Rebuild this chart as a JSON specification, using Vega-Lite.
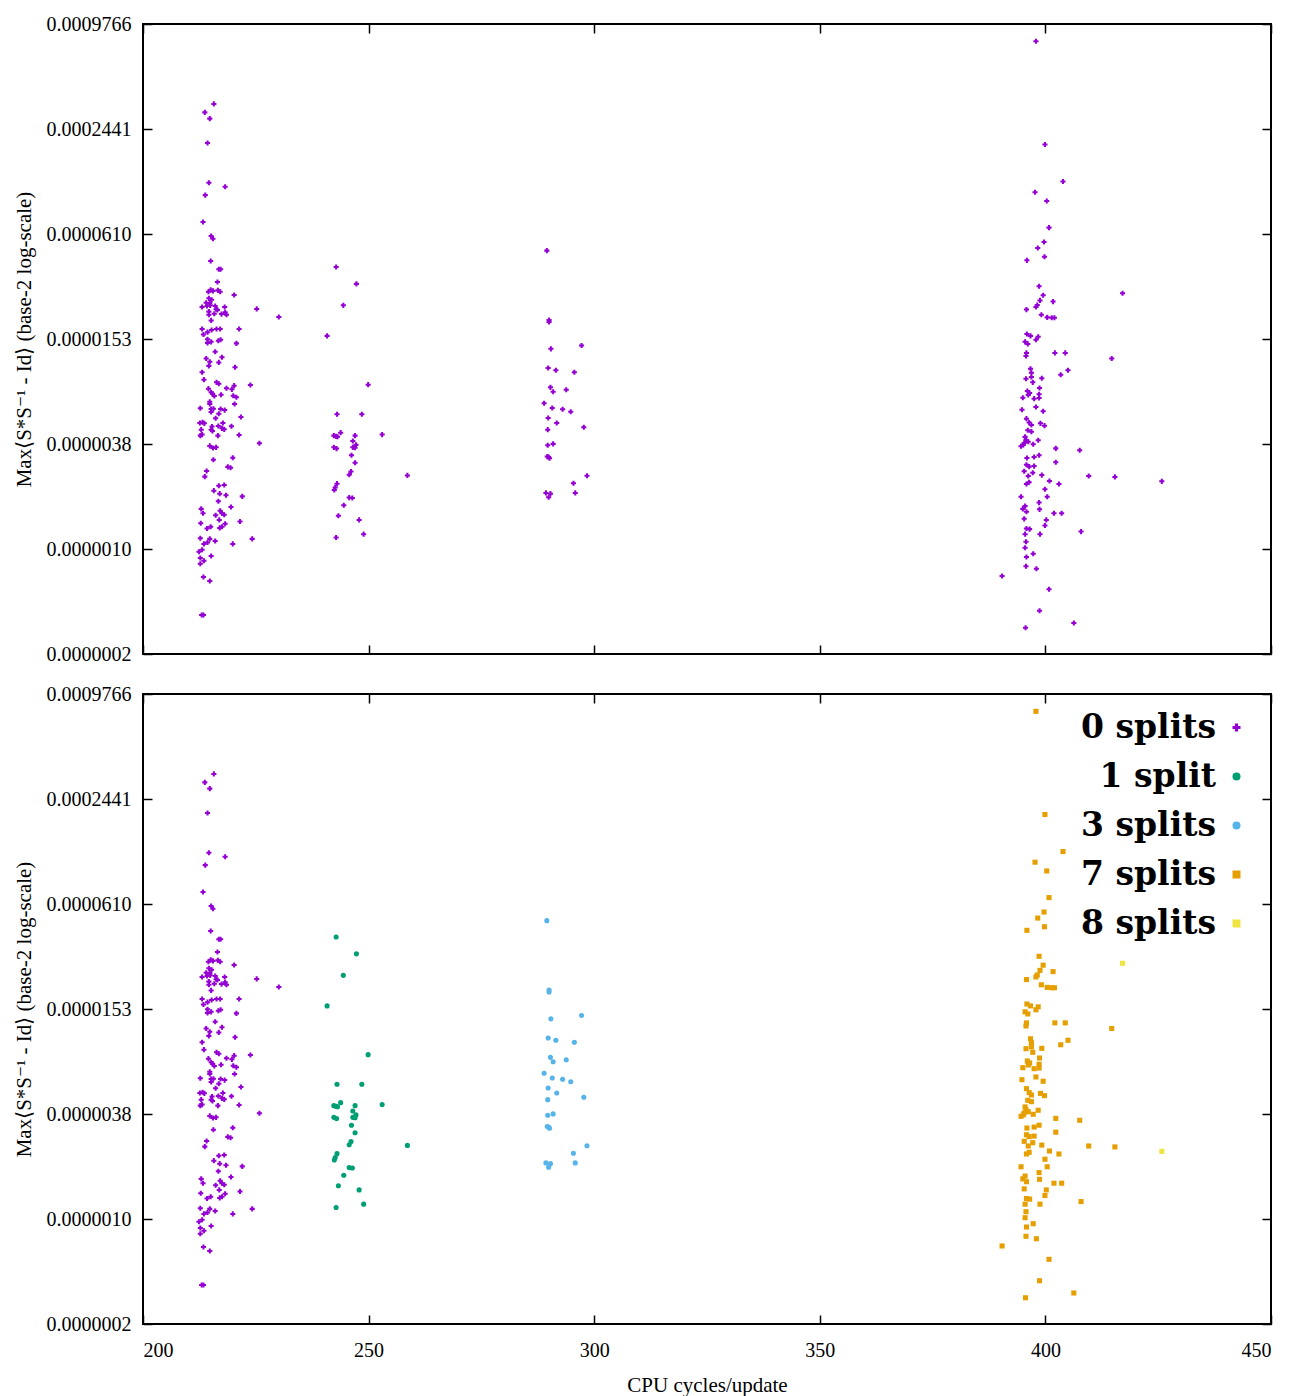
{
  "$schema": "https://vega.github.io/schema/vega-lite/v6.json",
  "background": "white",
  "padding": {"left": 12, "top": 13, "right": 20, "bottom": 4},
  "bounds": "flush",
  "spacing": 40,
  "config": {
    "view": {"stroke": "black", "strokeWidth": 2},
    "axis": {
      "labelFont": "Liberation Serif", "labelFontSize": 20, "labelColor": "black",
      "titleFont": "Liberation Serif", "titleFontSize": 21, "titleFontWeight": "normal", "titleColor": "black",
      "tickColor": "black", "tickSize": -9, "tickWidth": 1.5, "domain": false, "grid": false
    }
  },
  "datasets": {
    "pts": [
      {"c":215.7,"e":3.40e-4,"s":"0 splits"},{"c":213.7,"e":3.04e-4,"s":"0 splits"},{"c":214.8,"e":2.80e-4,"s":"0 splits"},{"c":214.3,"e":2.03e-4,"s":"0 splits"},{"c":214.6,"e":1.20e-4,"s":"0 splits"},{"c":218.2,"e":1.14e-4,"s":"0 splits"},{"c":213.8,"e":1.02e-4,"s":"0 splits"},{"c":213.3,"e":7.15e-5,"s":"0 splits"},{"c":215.1,"e":5.95e-5,"s":"0 splits"},{"c":215.5,"e":5.74e-5,"s":"0 splits"},
      {"c":215.0,"e":4.27e-5,"s":"0 splits"},{"c":216.8,"e":3.83e-5,"s":"0 splits"},{"c":217.2,"e":3.83e-5,"s":"0 splits"},{"c":216.5,"e":3.24e-5,"s":"0 splits"},{"c":215.0,"e":2.92e-5,"s":"0 splits"},{"c":214.5,"e":2.85e-5,"s":"0 splits"},{"c":215.5,"e":2.88e-5,"s":"0 splits"},{"c":216.6,"e":2.90e-5,"s":"0 splits"},{"c":217.1,"e":2.85e-5,"s":"0 splits"},{"c":220.2,"e":2.73e-5,"s":"0 splits"},
      {"c":214.6,"e":2.61e-5,"s":"0 splits"},{"c":215.2,"e":2.56e-5,"s":"0 splits"},{"c":214.0,"e":2.46e-5,"s":"0 splits"},{"c":214.8,"e":2.45e-5,"s":"0 splits"},{"c":214.2,"e":2.36e-5,"s":"0 splits"},{"c":214.9,"e":2.38e-5,"s":"0 splits"},{"c":213.1,"e":2.33e-5,"s":"0 splits"},{"c":216.0,"e":2.36e-5,"s":"0 splits"},{"c":218.1,"e":2.33e-5,"s":"0 splits"},{"c":216.2,"e":2.26e-5,"s":"0 splits"},
      {"c":216.5,"e":2.24e-5,"s":"0 splits"},{"c":225.2,"e":2.27e-5,"s":"0 splits"},{"c":214.6,"e":2.19e-5,"s":"0 splits"},{"c":215.8,"e":2.13e-5,"s":"0 splits"},{"c":214.6,"e":2.10e-5,"s":"0 splits"},{"c":217.4,"e":2.12e-5,"s":"0 splits"},{"c":218.2,"e":2.17e-5,"s":"0 splits"},{"c":218.5,"e":2.10e-5,"s":"0 splits"},{"c":230.1,"e":2.04e-5,"s":"0 splits"},{"c":215.1,"e":1.95e-5,"s":"0 splits"},
      {"c":213.1,"e":1.74e-5,"s":"0 splits"},{"c":215.2,"e":1.72e-5,"s":"0 splits"},{"c":216.3,"e":1.74e-5,"s":"0 splits"},{"c":217.1,"e":1.74e-5,"s":"0 splits"},{"c":221.3,"e":1.74e-5,"s":"0 splits"},{"c":214.3,"e":1.67e-5,"s":"0 splits"},{"c":213.4,"e":1.62e-5,"s":"0 splits"},{"c":214.3,"e":1.52e-5,"s":"0 splits"},{"c":215.1,"e":1.47e-5,"s":"0 splits"},{"c":214.3,"e":1.45e-5,"s":"0 splits"},
      {"c":216.7,"e":1.49e-5,"s":"0 splits"},{"c":217.2,"e":1.51e-5,"s":"0 splits"},{"c":220.7,"e":1.44e-5,"s":"0 splits"},{"c":216.0,"e":1.29e-5,"s":"0 splits"},{"c":214.0,"e":1.18e-5,"s":"0 splits"},{"c":217.5,"e":1.20e-5,"s":"0 splits"},{"c":214.8,"e":1.13e-5,"s":"0 splits"},{"c":216.8,"e":1.12e-5,"s":"0 splits"},{"c":214.6,"e":1.07e-5,"s":"0 splits"},{"c":220.4,"e":1.05e-5,"s":"0 splits"},
      {"c":213.1,"e":9.83e-6,"s":"0 splits"},{"c":213.5,"e":8.92e-6,"s":"0 splits"},{"c":216.3,"e":8.61e-6,"s":"0 splits"},{"c":216.8,"e":8.45e-6,"s":"0 splits"},{"c":223.8,"e":8.32e-6,"s":"0 splits"},{"c":214.5,"e":7.92e-6,"s":"0 splits"},{"c":218.5,"e":7.96e-6,"s":"0 splits"},{"c":219.7,"e":7.85e-6,"s":"0 splits"},{"c":220.2,"e":8.24e-6,"s":"0 splits"},{"c":215.1,"e":7.55e-6,"s":"0 splits"},
      {"c":215.4,"e":7.41e-6,"s":"0 splits"},{"c":215.8,"e":7.19e-6,"s":"0 splits"},{"c":217.3,"e":7.31e-6,"s":"0 splits"},{"c":220.0,"e":7.22e-6,"s":"0 splits"},{"c":220.7,"e":7.07e-6,"s":"0 splits"},{"c":214.8,"e":6.67e-6,"s":"0 splits"},{"c":214.8,"e":6.47e-6,"s":"0 splits"},{"c":220.3,"e":6.47e-6,"s":"0 splits"},{"c":212.7,"e":6.11e-6,"s":"0 splits"},{"c":215.1,"e":6.05e-6,"s":"0 splits"},
      {"c":215.6,"e":6.07e-6,"s":"0 splits"},{"c":215.1,"e":5.82e-6,"s":"0 splits"},{"c":217.2,"e":6.05e-6,"s":"0 splits"},{"c":218.1,"e":5.97e-6,"s":"0 splits"},{"c":216.8,"e":5.69e-6,"s":"0 splits"},{"c":221.7,"e":5.45e-6,"s":"0 splits"},{"c":216.1,"e":5.36e-6,"s":"0 splits"},{"c":212.6,"e":5.03e-6,"s":"0 splits"},{"c":213.2,"e":5.08e-6,"s":"0 splits"},{"c":213.6,"e":5.01e-6,"s":"0 splits"},
      {"c":217.7,"e":5.03e-6,"s":"0 splits"},{"c":215.3,"e":4.80e-6,"s":"0 splits"},{"c":216.7,"e":4.84e-6,"s":"0 splits"},{"c":217.5,"e":4.69e-6,"s":"0 splits"},{"c":218.0,"e":4.63e-6,"s":"0 splits"},{"c":219.6,"e":4.82e-6,"s":"0 splits"},{"c":215.1,"e":4.61e-6,"s":"0 splits"},{"c":215.4,"e":4.53e-6,"s":"0 splits"},{"c":212.9,"e":4.61e-6,"s":"0 splits"},{"c":213.1,"e":4.32e-6,"s":"0 splits"},
      {"c":212.7,"e":4.26e-6,"s":"0 splits"},{"c":216.6,"e":4.26e-6,"s":"0 splits"},{"c":221.3,"e":4.30e-6,"s":"0 splits"},{"c":225.8,"e":3.85e-6,"s":"0 splits"},{"c":214.8,"e":3.72e-6,"s":"0 splits"},{"c":215.5,"e":3.62e-6,"s":"0 splits"},{"c":216.2,"e":3.65e-6,"s":"0 splits"},{"c":219.9,"e":3.18e-6,"s":"0 splits"},{"c":215.6,"e":3.10e-6,"s":"0 splits"},{"c":218.8,"e":2.82e-6,"s":"0 splits"},
      {"c":219.4,"e":2.79e-6,"s":"0 splits"},{"c":214.1,"e":2.67e-6,"s":"0 splits"},{"c":213.7,"e":2.48e-6,"s":"0 splits"},{"c":216.8,"e":2.20e-6,"s":"0 splits"},{"c":218.0,"e":2.22e-6,"s":"0 splits"},{"c":215.7,"e":2.06e-6,"s":"0 splits"},{"c":217.0,"e":1.98e-6,"s":"0 splits"},{"c":218.4,"e":1.94e-6,"s":"0 splits"},{"c":222.0,"e":1.91e-6,"s":"0 splits"},{"c":216.7,"e":1.79e-6,"s":"0 splits"},
      {"c":219.5,"e":1.66e-6,"s":"0 splits"},{"c":212.9,"e":1.62e-6,"s":"0 splits"},{"c":213.3,"e":1.53e-6,"s":"0 splits"},{"c":217.1,"e":1.58e-6,"s":"0 splits"},{"c":217.5,"e":1.53e-6,"s":"0 splits"},{"c":218.0,"e":1.50e-6,"s":"0 splits"},{"c":216.1,"e":1.49e-6,"s":"0 splits"},{"c":216.9,"e":1.40e-6,"s":"0 splits"},{"c":212.8,"e":1.34e-6,"s":"0 splits"},{"c":218.2,"e":1.33e-6,"s":"0 splits"},
      {"c":221.5,"e":1.37e-6,"s":"0 splits"},{"c":214.2,"e":1.25e-6,"s":"0 splits"},{"c":215.0,"e":1.28e-6,"s":"0 splits"},{"c":217.0,"e":1.26e-6,"s":"0 splits"},{"c":217.5,"e":1.28e-6,"s":"0 splits"},{"c":212.7,"e":1.10e-6,"s":"0 splits"},{"c":214.8,"e":1.09e-6,"s":"0 splits"},{"c":216.0,"e":1.06e-6,"s":"0 splits"},{"c":224.2,"e":1.09e-6,"s":"0 splits"},{"c":213.5,"e":1.02e-6,"s":"0 splits"},
      {"c":214.3,"e":1.04e-6,"s":"0 splits"},{"c":219.9,"e":1.02e-6,"s":"0 splits"},{"c":213.1,"e":9.45e-7,"s":"0 splits"},{"c":212.4,"e":9.20e-7,"s":"0 splits"},{"c":212.7,"e":8.47e-7,"s":"0 splits"},{"c":213.5,"e":8.17e-7,"s":"0 splits"},{"c":215.1,"e":8.70e-7,"s":"0 splits"},{"c":212.7,"e":7.85e-7,"s":"0 splits"},{"c":213.4,"e":6.59e-7,"s":"0 splits"},{"c":214.8,"e":6.25e-7,"s":"0 splits"},
      {"c":213.0,"e":3.99e-7,"s":"0 splits"},{"c":213.4,"e":3.99e-7,"s":"0 splits"},
      {"c":242.8,"e":3.95e-5,"s":"1 split"},{"c":247.3,"e":3.16e-5,"s":"1 split"},{"c":244.4,"e":2.38e-5,"s":"1 split"},{"c":240.8,"e":1.59e-5,"s":"1 split"},{"c":249.9,"e":8.35e-6,"s":"1 split"},{"c":243.0,"e":5.65e-6,"s":"1 split"},{"c":248.5,"e":5.65e-6,"s":"1 split"},{"c":243.8,"e":4.43e-6,"s":"1 split"},{"c":242.3,"e":4.26e-6,"s":"1 split"},{"c":242.8,"e":4.22e-6,"s":"1 split"},
      {"c":243.1,"e":4.20e-6,"s":"1 split"},{"c":247.0,"e":4.26e-6,"s":"1 split"},{"c":253.0,"e":4.32e-6,"s":"1 split"},{"c":246.5,"e":3.97e-6,"s":"1 split"},{"c":247.2,"e":3.77e-6,"s":"1 split"},{"c":246.5,"e":3.65e-6,"s":"1 split"},{"c":247.0,"e":3.63e-6,"s":"1 split"},{"c":242.3,"e":3.65e-6,"s":"1 split"},{"c":242.9,"e":3.59e-6,"s":"1 split"},{"c":246.2,"e":3.29e-6,"s":"1 split"},
      {"c":247.0,"e":2.98e-6,"s":"1 split"},{"c":246.1,"e":2.65e-6,"s":"1 split"},{"c":245.7,"e":2.54e-6,"s":"1 split"},{"c":258.6,"e":2.52e-6,"s":"1 split"},{"c":243.0,"e":2.26e-6,"s":"1 split"},{"c":242.6,"e":2.15e-6,"s":"1 split"},{"c":242.4,"e":2.08e-6,"s":"1 split"},{"c":245.7,"e":1.88e-6,"s":"1 split"},{"c":246.4,"e":1.87e-6,"s":"1 split"},{"c":244.5,"e":1.70e-6,"s":"1 split"},
      {"c":243.3,"e":1.48e-6,"s":"1 split"},{"c":247.9,"e":1.40e-6,"s":"1 split"},{"c":248.9,"e":1.16e-6,"s":"1 split"},{"c":242.8,"e":1.11e-6,"s":"1 split"},
      {"c":289.5,"e":4.90e-5,"s":"3 splits"},{"c":290.0,"e":1.96e-5,"s":"3 splits"},{"c":290.0,"e":1.91e-5,"s":"3 splits"},{"c":297.2,"e":1.40e-5,"s":"3 splits"},{"c":290.4,"e":1.34e-5,"s":"3 splits"},{"c":289.8,"e":1.04e-5,"s":"3 splits"},{"c":291.5,"e":1.01e-5,"s":"3 splits"},{"c":295.6,"e":9.83e-6,"s":"3 splits"},{"c":290.3,"e":8.06e-6,"s":"3 splits"},{"c":290.9,"e":7.61e-6,"s":"3 splits"},
      {"c":293.8,"e":7.81e-6,"s":"3 splits"},{"c":288.9,"e":6.53e-6,"s":"3 splits"},{"c":290.7,"e":6.13e-6,"s":"3 splits"},{"c":293.0,"e":6.03e-6,"s":"3 splits"},{"c":294.8,"e":5.84e-6,"s":"3 splits"},{"c":289.8,"e":5.38e-6,"s":"3 splits"},{"c":291.7,"e":5.03e-6,"s":"3 splits"},{"c":297.7,"e":4.76e-6,"s":"3 splits"},{"c":289.7,"e":4.61e-6,"s":"3 splits"},{"c":289.7,"e":3.75e-6,"s":"3 splits"},
      {"c":290.9,"e":3.82e-6,"s":"3 splits"},{"c":289.6,"e":3.23e-6,"s":"3 splits"},{"c":289.9,"e":3.21e-6,"s":"3 splits"},{"c":290.1,"e":3.16e-6,"s":"3 splits"},{"c":298.4,"e":2.51e-6,"s":"3 splits"},{"c":295.4,"e":2.27e-6,"s":"3 splits"},{"c":289.3,"e":2.00e-6,"s":"3 splits"},{"c":290.3,"e":1.98e-6,"s":"3 splits"},{"c":289.9,"e":1.89e-6,"s":"3 splits"},{"c":295.8,"e":2.00e-6,"s":"3 splits"},
      {"c":397.9,"e":7.77e-4,"s":"7 splits"},{"c":399.9,"e":1.99e-4,"s":"7 splits"},{"c":403.9,"e":1.22e-4,"s":"7 splits"},{"c":397.7,"e":1.06e-4,"s":"7 splits"},{"c":400.3,"e":9.44e-5,"s":"7 splits"},{"c":400.8,"e":6.64e-5,"s":"7 splits"},{"c":399.7,"e":5.49e-5,"s":"7 splits"},{"c":398.3,"e":5.07e-5,"s":"7 splits"},{"c":399.8,"e":4.52e-5,"s":"7 splits"},{"c":395.9,"e":4.31e-5,"s":"7 splits"},
      {"c":398.6,"e":3.06e-5,"s":"7 splits"},{"c":399.5,"e":2.72e-5,"s":"7 splits"},{"c":398.8,"e":2.54e-5,"s":"7 splits"},{"c":398.2,"e":2.39e-5,"s":"7 splits"},{"c":397.9,"e":2.33e-5,"s":"7 splits"},{"c":401.7,"e":2.50e-5,"s":"7 splits"},{"c":395.8,"e":2.25e-5,"s":"7 splits"},{"c":399.1,"e":2.10e-5,"s":"7 splits"},{"c":400.4,"e":2.03e-5,"s":"7 splits"},{"c":402.0,"e":2.02e-5,"s":"7 splits"},
      {"c":401.4,"e":2.02e-5,"s":"7 splits"},{"c":395.9,"e":1.63e-5,"s":"7 splits"},{"c":396.7,"e":1.59e-5,"s":"7 splits"},{"c":398.4,"e":1.57e-5,"s":"7 splits"},{"c":397.9,"e":1.51e-5,"s":"7 splits"},{"c":395.5,"e":1.47e-5,"s":"7 splits"},{"c":396.1,"e":1.43e-5,"s":"7 splits"},{"c":395.8,"e":1.27e-5,"s":"7 splits"},{"c":395.7,"e":1.22e-5,"s":"7 splits"},{"c":402.1,"e":1.27e-5,"s":"7 splits"},
      {"c":404.4,"e":1.27e-5,"s":"7 splits"},{"c":414.7,"e":1.18e-5,"s":"7 splits"},{"c":396.7,"e":1.03e-5,"s":"7 splits"},{"c":396.9,"e":9.78e-6,"s":"7 splits"},{"c":405.0,"e":1.01e-5,"s":"7 splits"},{"c":403.4,"e":9.52e-6,"s":"7 splits"},{"c":395.7,"e":9.03e-6,"s":"7 splits"},{"c":396.9,"e":9.24e-6,"s":"7 splits"},{"c":399.2,"e":9.08e-6,"s":"7 splits"},{"c":397.2,"e":8.61e-6,"s":"7 splits"},
      {"c":398.7,"e":7.99e-6,"s":"7 splits"},{"c":396.0,"e":7.68e-6,"s":"7 splits"},{"c":396.5,"e":7.48e-6,"s":"7 splits"},{"c":396.2,"e":7.29e-6,"s":"7 splits"},{"c":398.6,"e":7.36e-6,"s":"7 splits"},{"c":395.0,"e":7.03e-6,"s":"7 splits"},{"c":397.5,"e":6.94e-6,"s":"7 splits"},{"c":398.6,"e":7.00e-6,"s":"7 splits"},{"c":394.8,"e":6.00e-6,"s":"7 splits"},{"c":397.9,"e":6.22e-6,"s":"7 splits"},
      {"c":399.5,"e":5.88e-6,"s":"7 splits"},{"c":395.8,"e":5.33e-6,"s":"7 splits"},{"c":396.4,"e":5.06e-6,"s":"7 splits"},{"c":396.9,"e":4.90e-6,"s":"7 splits"},{"c":398.9,"e":5.01e-6,"s":"7 splits"},{"c":399.8,"e":4.86e-6,"s":"7 splits"},{"c":396.1,"e":4.57e-6,"s":"7 splits"},{"c":396.9,"e":4.49e-6,"s":"7 splits"},{"c":395.5,"e":4.19e-6,"s":"7 splits"},{"c":395.7,"e":4.04e-6,"s":"7 splits"},
      {"c":396.2,"e":3.93e-6,"s":"7 splits"},{"c":395.3,"e":3.87e-6,"s":"7 splits"},{"c":398.4,"e":4.01e-6,"s":"7 splits"},{"c":397.3,"e":3.80e-6,"s":"7 splits"},{"c":394.6,"e":3.70e-6,"s":"7 splits"},{"c":395.1,"e":3.77e-6,"s":"7 splits"},{"c":402.3,"e":3.60e-6,"s":"7 splits"},{"c":407.6,"e":3.51e-6,"s":"7 splits"},{"c":395.9,"e":3.17e-6,"s":"7 splits"},{"c":397.5,"e":3.21e-6,"s":"7 splits"},
      {"c":398.6,"e":3.29e-6,"s":"7 splits"},{"c":402.3,"e":3.00e-6,"s":"7 splits"},{"c":395.8,"e":2.90e-6,"s":"7 splits"},{"c":396.4,"e":2.83e-6,"s":"7 splits"},{"c":397.5,"e":2.85e-6,"s":"7 splits"},{"c":395.3,"e":2.66e-6,"s":"7 splits"},{"c":397.2,"e":2.61e-6,"s":"7 splits"},{"c":396.2,"e":2.50e-6,"s":"7 splits"},{"c":399.2,"e":2.53e-6,"s":"7 splits"},{"c":409.6,"e":2.50e-6,"s":"7 splits"},
      {"c":415.4,"e":2.47e-6,"s":"7 splits"},{"c":400.9,"e":2.34e-6,"s":"7 splits"},{"c":403.0,"e":2.25e-6,"s":"7 splits"},{"c":396.4,"e":2.30e-6,"s":"7 splits"},{"c":395.8,"e":2.25e-6,"s":"7 splits"},{"c":399.9,"e":2.10e-6,"s":"7 splits"},{"c":394.6,"e":1.90e-6,"s":"7 splits"},{"c":400.4,"e":1.90e-6,"s":"7 splits"},{"c":398.6,"e":1.76e-6,"s":"7 splits"},{"c":398.7,"e":1.61e-6,"s":"7 splits"},
      {"c":395.5,"e":1.68e-6,"s":"7 splits"},{"c":395.0,"e":1.62e-6,"s":"7 splits"},{"c":395.8,"e":1.56e-6,"s":"7 splits"},{"c":401.9,"e":1.53e-6,"s":"7 splits"},{"c":403.6,"e":1.53e-6,"s":"7 splits"},{"c":395.3,"e":1.42e-6,"s":"7 splits"},{"c":400.2,"e":1.40e-6,"s":"7 splits"},{"c":399.9,"e":1.30e-6,"s":"7 splits"},{"c":395.8,"e":1.25e-6,"s":"7 splits"},{"c":396.5,"e":1.24e-6,"s":"7 splits"},
      {"c":395.5,"e":1.16e-6,"s":"7 splits"},{"c":398.8,"e":1.16e-6,"s":"7 splits"},{"c":407.9,"e":1.20e-6,"s":"7 splits"},{"c":395.7,"e":1.05e-6,"s":"7 splits"},{"c":395.5,"e":9.70e-7,"s":"7 splits"},{"c":397.3,"e":8.96e-7,"s":"7 splits"},{"c":395.8,"e":8.58e-7,"s":"7 splits"},{"c":395.7,"e":7.59e-7,"s":"7 splits"},{"c":398.0,"e":7.35e-7,"s":"7 splits"},{"c":390.4,"e":6.68e-7,"s":"7 splits"},
      {"c":400.8,"e":5.60e-7,"s":"7 splits"},{"c":398.7,"e":4.22e-7,"s":"7 splits"},{"c":406.3,"e":3.59e-7,"s":"7 splits"},{"c":395.6,"e":3.37e-7,"s":"7 splits"},
      {"c":417.1,"e":2.79e-5,"s":"8 splits"},{"c":425.8,"e":2.33e-6,"s":"8 splits"}
    ]
  },
  "vconcat": [
    {
      "width": 1128,
      "height": 630,
      "data": {"name": "pts"},
      "layer": [
        {
          "mark": {"type": "point", "shape": "cross", "filled": true, "size": 26, "color": "#9400d3", "opacity": 1},
          "encoding": {
            "x": {"field": "c", "type": "quantitative", "scale": {"domain": [200, 450], "nice": false, "zero": false},
                  "axis": {"orient": "bottom", "values": [200, 250, 300, 350, 400, 450], "labels": false, "title": null}},
            "y": {"field": "e", "type": "quantitative",
                  "scale": {"type": "log", "base": 2, "domain": [2.384185791015625e-7, 0.0009765625], "nice": false},
                  "axis": {"orient": "left", "values": [2.384185791015625e-7, 9.5367431640625e-7, 0.000003814697265625, 0.0000152587890625, 0.00006103515625, 0.000244140625, 0.0009765625],
                           "format": ".7f", "labelPadding": 21, "title": "Max⟨S*S⁻¹ - Id⟩ (base-2 log-scale)", "titlePadding": 12}}
          }
        },
        {
          "mark": {"type": "point", "opacity": 0},
          "encoding": {
            "x": {"field": "c", "type": "quantitative", "axis": {"orient": "top", "values": [200, 250, 300, 350, 400, 450], "labels": false, "title": null}},
            "y": {"field": "e", "type": "quantitative", "axis": {"orient": "right", "values": [2.384185791015625e-7, 9.5367431640625e-7, 0.000003814697265625, 0.0000152587890625, 0.00006103515625, 0.000244140625, 0.0009765625], "labels": false, "title": null}}
          }
        }
      ],
      "resolve": {"axis": {"x": "independent", "y": "independent"}}
    },
    {
      "width": 1128,
      "height": 630,
      "data": {"name": "pts"},
      "layer": [
        {
          "mark": {"type": "point", "filled": true, "opacity": 1, "size": 26},
          "encoding": {
            "x": {"field": "c", "type": "quantitative", "scale": {"domain": [200, 450], "nice": false, "zero": false},
                  "axis": {"orient": "bottom", "values": [200, 250, 300, 350, 400, 450], "labelPadding": 25, "title": "CPU cycles/update", "titlePadding": 14}},
            "y": {"field": "e", "type": "quantitative",
                  "scale": {"type": "log", "base": 2, "domain": [2.384185791015625e-7, 0.0009765625], "nice": false},
                  "axis": {"orient": "left", "values": [2.384185791015625e-7, 9.5367431640625e-7, 0.000003814697265625, 0.0000152587890625, 0.00006103515625, 0.000244140625, 0.0009765625],
                           "format": ".7f", "labelPadding": 21, "title": "Max⟨S*S⁻¹ - Id⟩ (base-2 log-scale)", "titlePadding": 12}},
            "color": {"field": "s", "type": "nominal",
                      "scale": {"domain": ["0 splits", "1 split", "3 splits", "7 splits", "8 splits"], "range": ["#9400d3", "#009e73", "#56b4e9", "#e69f00", "#f0e442"]},
                      "legend": {"orient": "none", "legendX": 1077, "legendY": 687, "title": null, "padding": 0,
                                 "labelAlign": "right", "labelOffset": -37, "labelFont": "DejaVu Serif", "labelFontSize": 33, "labelFontWeight": "bold", "labelColor": "black",
                                 "labelLimit": 0, "rowPadding": 15, "symbolSize": 64}},
            "shape": {"field": "s", "type": "nominal",
                      "scale": {"domain": ["0 splits", "1 split", "3 splits", "7 splits", "8 splits"], "range": ["cross", "circle", "circle", "square", "square"]}}
          }
        },
        {
          "mark": {"type": "point", "opacity": 0},
          "encoding": {
            "x": {"field": "c", "type": "quantitative", "axis": {"orient": "top", "values": [200, 250, 300, 350, 400, 450], "labels": false, "title": null}},
            "y": {"field": "e", "type": "quantitative", "axis": {"orient": "right", "values": [2.384185791015625e-7, 9.5367431640625e-7, 0.000003814697265625, 0.0000152587890625, 0.00006103515625, 0.000244140625, 0.0009765625], "labels": false, "title": null}}
          }
        }
      ],
      "resolve": {"axis": {"x": "independent", "y": "independent"}}
    }
  ]
}
